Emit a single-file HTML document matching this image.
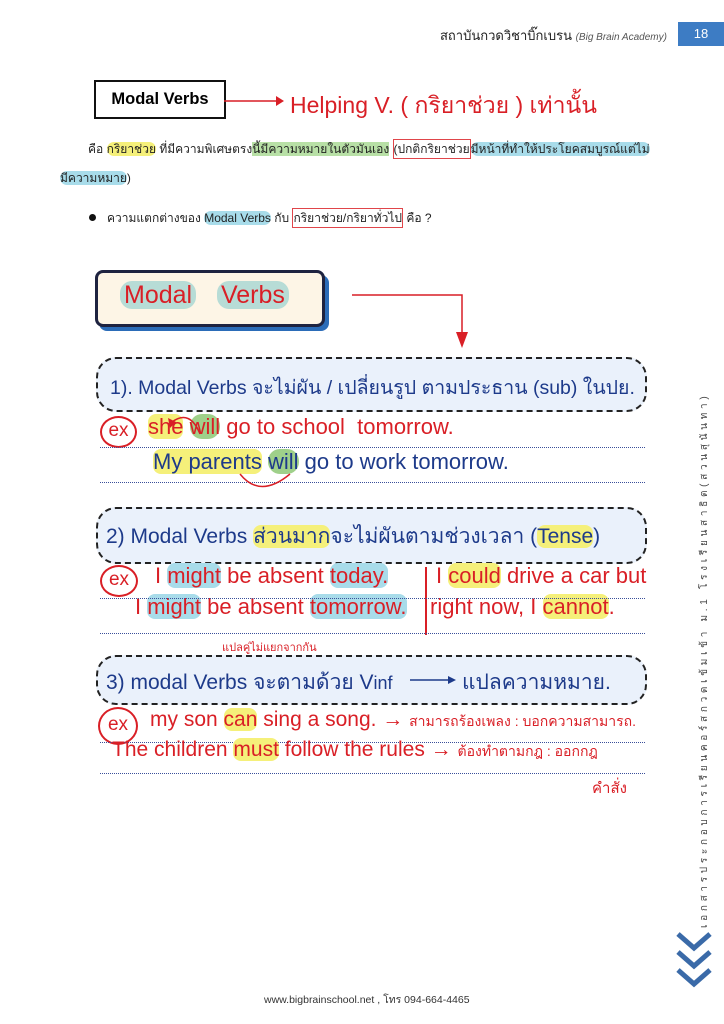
<!DOCTYPE html>
<html><head><meta charset="utf-8">
<style>
body{margin:0;background:#fff;}
#p{position:relative;width:724px;height:1024px;overflow:hidden;font-family:"Liberation Sans","Noto Sans CJK SC",sans-serif;}
.a{position:absolute;white-space:nowrap;}
.hw{font-family:"Liberation Sans","Noto Sans CJK SC",sans-serif;}
.red{color:#d91f26;}
.navy{color:#1d3a8a;}
.box{position:absolute;left:96px;width:547px;border:2px dashed #222;border-radius:20px;background:#eaf1fb;}
.dot{position:absolute;left:100px;width:545px;border-top:1px dotted #3a4f9a;}
.ex{position:absolute;border:2px solid #d91f26;border-radius:50%;color:#d91f26;font-size:19px;text-align:center;}
.hy{background:#f5f07a;border-radius:8px;}
.hb{background:#a8dcea;border-radius:8px;}
.hg{background:#9fd08a;border-radius:12px;}
</style></head><body><div id="p">

<div class="a" style="left:440px;top:25px;font-size:13px;color:#222;">สถาบันกวดวิชาบิ๊กเบรน <i style="font-size:10px;color:#555">(Big Brain Academy)</i></div>
<div class="a" style="left:678px;top:22px;width:46px;height:24px;background:#3d7cc4;color:#fff;font-size:13px;line-height:24px;text-align:center;">18</div>

<div class="a" style="left:94px;top:80px;width:128px;height:35px;border:2px solid #111;font-weight:bold;font-size:16.5px;line-height:35px;text-align:center;">Modal Verbs</div>
<svg class="a" style="left:224px;top:92px" width="70" height="20"><line x1="0" y1="9" x2="52" y2="9" stroke="#d91f26" stroke-width="1.5"/><polygon points="52,4 60,9 52,14" fill="#d91f26"/></svg>
<div class="a hw red" style="left:290px;top:88px;font-size:23px;">Helping V. ( กริยาช่วย ) เท่านั้น</div>

<div class="a" style="left:88px;top:140px;font-size:12px;color:#222;">คือ <span class="hy">กริยาช่วย</span> ที่มีความพิเศษตรง<span style="background:#b8e0a6">นี้มีความหมายในตัวมันเอง</span> <span style="border:1.5px solid #e0454a;padding:2px 0">(ปกติกริยาช่วย</span><span class="hb">มีหน้าที่ทำให้ประโยคสมบูรณ์แต่ไม่</span></div>
<div class="a" style="left:60px;top:169px;font-size:12px;color:#222;"><span class="hb">มีความหมาย</span>)</div>
<div class="a" style="left:89px;top:214px;width:7px;height:7px;border-radius:50%;background:#111;"></div>
<div class="a" style="left:107px;top:209px;font-size:12px;color:#222;">ความแตกต่างของ <span class="hb">Modal Verbs</span> กับ <span style="border:1.5px solid #e0454a;padding:2px 0">กริยาช่วย/กริยาทั่วไป</span> คือ ?</div>

<div class="a" style="left:99px;top:275px;width:230px;height:56px;background:#2b6cb8;border-radius:8px;"></div>
<div class="a" style="left:95px;top:270px;width:224px;height:51px;background:#fdf5e6;border:3px solid #1e2340;border-radius:8px;"></div>
<div class="a hw red" style="left:120px;top:281px;font-size:25px;"><span style="background:#b7dcd6;border-radius:12px;padding:0 4px">Modal</span>&nbsp;&nbsp; <span style="background:#b7dcd6;border-radius:12px;padding:0 4px">Verbs</span></div>
<svg class="a" style="left:350px;top:290px" width="130" height="62"><polyline points="2,5 112,5 112,45" fill="none" stroke="#d91f26" stroke-width="1.5"/><polygon points="106,42 118,42 112,58" fill="#d91f26"/></svg>

<div class="box" style="top:357px;height:51px;"></div>
<div class="a hw navy" style="left:110px;top:372px;font-size:19.5px;">1). Modal Verbs จะไม่ผัน / เปลี่ยนรูป ตามประธาน (sub) ในปย.</div>
<div class="ex" style="left:100px;top:416px;width:33px;height:28px;line-height:26px;">ex</div>
<div class="a hw red" style="left:148px;top:414px;font-size:22px;"><span class="hy">she</span> <span class="hg">will</span> go to school &nbsp;tomorrow.</div>
<div class="dot" style="top:447px;"></div>
<div class="a hw navy" style="left:153px;top:449px;font-size:22px;"><span class="hy">My parents</span> <span class="hg">will</span> go to work tomorrow.</div>
<div class="dot" style="top:482px;"></div>
<svg class="a" style="left:160px;top:404px" width="140" height="90"><path d="M40,30 Q30,5 12,18" fill="none" stroke="#d91f26" stroke-width="1.5"/><polygon points="8,14 16,18 10,24" fill="#d91f26"/><path d="M80,70 Q100,95 130,70" fill="none" stroke="#d91f26" stroke-width="1.5"/></svg>

<div class="box" style="top:507px;height:53px;"></div>
<div class="a hw navy" style="left:106px;top:520px;font-size:21px;">2) Modal Verbs <span class="hy">ส่วนมาก</span>จะไม่ผันตามช่วงเวลา (<span class="hy">Tense</span>)</div>
<div class="ex" style="left:100px;top:565px;width:34px;height:28px;line-height:26px;">ex</div>
<div class="a hw red" style="left:155px;top:563px;font-size:22px;">I <span class="hb">might</span> be absent <span class="hb">today.</span></div>
<div class="a hw red" style="left:135px;top:594px;font-size:22px;">I <span class="hb">might</span> be absent <span class="hb">tomorrow.</span></div>
<div class="a" style="left:425px;top:567px;width:2px;height:68px;background:#d91f26;"></div>
<div class="a hw red" style="left:436px;top:563px;font-size:22px;">I <span class="hy">could</span> drive a car but</div>
<div class="a hw red" style="left:430px;top:594px;font-size:22px;">right now, I <span class="hy">cannot</span>.</div>
<div class="dot" style="top:598px;"></div>
<div class="dot" style="top:633px;"></div>
<div class="a hw red" style="left:222px;top:638px;font-size:11px;">แปลคู่ไม่แยกจากกัน</div>
<svg class="a" style="left:155px;top:650px" width="220" height="40"><polyline points="3,35 3,18 213,18 213,30" fill="none" stroke="#d91f26" stroke-width="1.5"/><line x1="93" y1="18" x2="93" y2="6" stroke="#d91f26" stroke-width="1.5"/></svg>

<div class="box" style="top:655px;height:46px;"></div>
<div class="a hw navy" style="left:106px;top:666px;font-size:21px;">3) modal Verbs จะตามด้วย V<span style="font-size:18px">inf</span></div>
<svg class="a" style="left:410px;top:670px" width="50" height="20"><line x1="0" y1="10" x2="38" y2="10" stroke="#1d3a8a" stroke-width="1.5"/><polygon points="38,6 46,10 38,14" fill="#1d3a8a"/></svg>
<div class="a hw navy" style="left:462px;top:666px;font-size:21px;">แปลความหมาย.</div>
<div class="ex" style="left:98px;top:707px;width:36px;height:34px;line-height:32px;">ex</div>
<div class="a hw red" style="left:150px;top:708px;font-size:21px;">my son <span class="hy">can</span> sing a song. → <span style="font-size:14px">สามารถร้องเพลง : บอกความสามารถ.</span></div>
<div class="dot" style="top:742px;"></div>
<div class="a hw red" style="left:112px;top:738px;font-size:21px;">The children <span class="hy">must</span> follow the rules → <span style="font-size:14px">ต้องทำตามกฎ : ออกกฎ</span></div>
<div class="dot" style="top:773px;"></div>
<div class="a hw red" style="left:592px;top:776px;font-size:15px;">คำสั่ง</div>

<div class="a" style="left:697px;top:928px;transform-origin:0 0;transform:rotate(-90deg);font-size:10px;color:#444;letter-spacing:3.7px;">เอกสารประกอบการเรียนคอร์สกวดเข้มเข้า ม.1 โรงเรียนสาธิต(สวนสุนันทา)</div>
<svg class="a" style="left:674px;top:930px" width="40" height="62"><polyline points="4,4 20,18 36,4" fill="none" stroke="#3a6aa8" stroke-width="5"/><polyline points="4,22 20,36 36,22" fill="none" stroke="#3a6aa8" stroke-width="5"/><polyline points="4,40 20,54 36,40" fill="none" stroke="#3a6aa8" stroke-width="5"/></svg>
<div class="a" style="left:264px;top:991px;font-size:10.5px;color:#333;">www.bigbrainschool.net , โทร 094-664-4465</div>

</div></body></html>
